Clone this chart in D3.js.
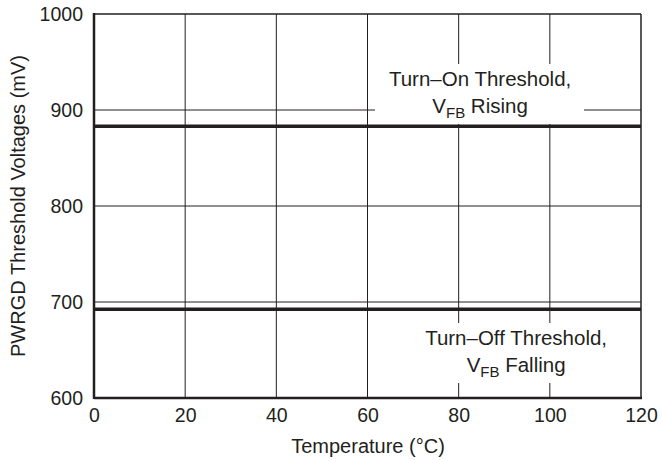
<html>
  <head>
    <style>
      body { margin: 0; background: #fff; }
      text { font-family: "Liberation Sans", Arial, sans-serif; fill: #231f20; }
    </style>
  </head>
  <body>
    <svg id="container" height="461" width="662">
      <g id="body" style="transform: translate(94px, 14px)"></g>
    </svg>
  </body>
  <script src="https://cdn.jsdelivr.net/npm/d3@7"></script>
  <script>
    // values
    let temperature = [0, 120];
    let turnOn = [883, 883];
    let turnOff = [692.5, 692.5];
    let xTicks = [0, 20, 40, 60, 80, 100, 120];
    let yTicks = [600, 700, 800, 900, 1000];

    let bodyWidth = 547;
    let bodyHeight = 384;
    let ink = "#231f20";
    let body = d3.select("#body");

    let xScale = d3.scaleLinear().domain([0, 120]).range([0, bodyWidth]);
    let yScale = d3.scaleLinear().domain([600, 1000]).range([bodyHeight, 0]);

    // grid
    body.append("g")
      .selectAll("line.v")
      .data(xTicks.slice(1, -1))
      .join("line")
      .attr("x1", d => xScale(d)).attr("x2", d => xScale(d))
      .attr("y1", 0).attr("y2", bodyHeight)
      .attr("stroke", ink).attr("stroke-width", 1);
    body.append("g")
      .selectAll("line.h")
      .data(yTicks.slice(1, -1))
      .join("line")
      .attr("x1", 0).attr("x2", bodyWidth)
      .attr("y1", d => yScale(d)).attr("y2", d => yScale(d))
      .attr("stroke", ink).attr("stroke-width", 1);

    // white label boxes cover the grid
    body.append("rect")
      .attr("x", 281).attr("y", 50).attr("width", 209).attr("height", 60)
      .attr("fill", "#fff");
    body.append("rect")
      .attr("x", 312).attr("y", 309).attr("width", 230).attr("height", 60)
      .attr("fill", "#fff");

    // frame
    body.append("line").attr("x1", 0).attr("x2", bodyWidth).attr("y1", 0).attr("y2", 0)
      .attr("stroke", ink).attr("stroke-width", 1.5);
    body.append("line").attr("x1", bodyWidth).attr("x2", bodyWidth).attr("y1", 0).attr("y2", bodyHeight)
      .attr("stroke", ink).attr("stroke-width", 1.5);
    body.append("line").attr("x1", 0).attr("x2", 0).attr("y1", -1).attr("y2", bodyHeight + 1)
      .attr("stroke", ink).attr("stroke-width", 2.5);
    body.append("line").attr("x1", 0).attr("x2", bodyWidth + 1).attr("y1", bodyHeight).attr("y2", bodyHeight)
      .attr("stroke", ink).attr("stroke-width", 2.5);

    // data lines
    let line = d3.line().x((d, i) => xScale(temperature[i])).y(d => yScale(d));
    [turnOn, turnOff].forEach(s => {
      body.append("path")
        .attr("d", line(s))
        .attr("fill", "none")
        .attr("stroke", ink)
        .attr("stroke-width", 3.5);
    });

    // tick labels
    let xAxis = d3.axisBottom(xScale).tickValues(xTicks).tickSize(0).tickPadding(10)
      .tickFormat(d3.format("d"));
    let gx = body.append("g").attr("transform", "translate(0," + bodyHeight + ")").call(xAxis);
    let yAxis = d3.axisLeft(yScale).tickValues(yTicks).tickSize(0).tickPadding(11)
      .tickFormat(d3.format("d"));
    let gy = body.append("g").call(yAxis);
    [gx, gy].forEach(g => {
      g.select(".domain").remove();
      g.selectAll("text").style("font-size", "19.5px")
        .style("font-family", "'Liberation Sans', Arial, sans-serif").attr("fill", ink);
    });

    // annotations
    function note(x, y, first, second) {
      let t = body.append("text").attr("text-anchor", "middle").style("font-size", "20.5px");
      t.append("tspan").attr("x", x).attr("y", y).text(first);
      let t2 = body.append("text").attr("text-anchor", "middle").style("font-size", "20.5px")
        .attr("x", x).attr("y", y + 27);
      t2.append("tspan").text("V");
      t2.append("tspan").attr("dy", 5).style("font-size", "15px").text("FB");
      t2.append("tspan").attr("dy", -5).text(" " + second);
    }
    note(xScale(84.7), 72, "Turn\u2013On Threshold,", "Rising");
    note(xScale(92.6), 331, "Turn\u2013Off Threshold,", "Falling");

    // axis titles
    d3.select("#container").append("text")
      .attr("x", 368).attr("y", 453).attr("text-anchor", "middle")
      .style("font-size", "20px").text("Temperature (\u00B0C)");
    d3.select("#container").append("text")
      .attr("transform", "translate(25,206) rotate(-90)").attr("text-anchor", "middle")
      .style("font-size", "20px").text("PWRGD Threshold Voltages (mV)");
  </script>
</html>
